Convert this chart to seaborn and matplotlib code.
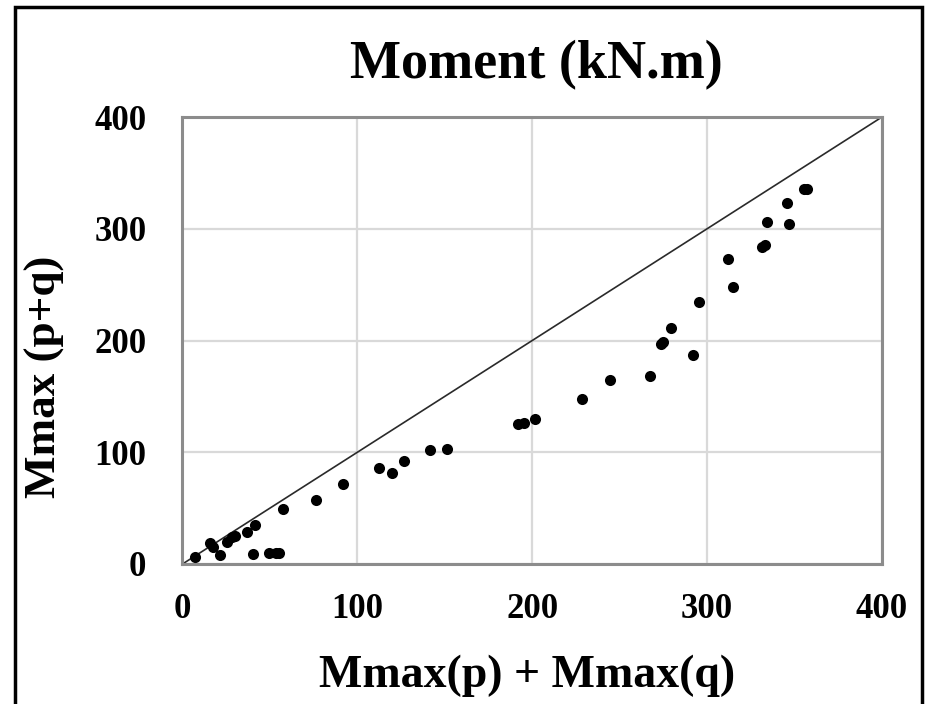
import matplotlib
matplotlib.use("Agg")
import matplotlib.pyplot as plt
import seaborn as sns
import pandas as pd
from matplotlib.patches import Rectangle

# Data
x_sum = [7, 15.7, 17.6, 21.4, 25.3, 28.1, 30, 37, 41.4, 40.5, 49.6, 53.4, 55.3, 57.6,
         76.3, 91.5, 112.5, 120, 126.6, 141.8, 151, 192, 195, 201.8, 228.3, 244.3,
         267.5, 273.5, 275, 279.3, 291.9, 295.3, 312.1, 315, 331.5, 333, 334, 345.6,
         346.6, 355.5, 357]
y_comb = [6, 18.5, 15.5, 8, 20, 24, 25, 29, 35, 9, 9.6, 9.6, 9.6, 49,
          57, 71.6, 85.7, 81.7, 92, 102, 103, 125, 126, 129.5, 147.7, 164.7,
          168.3, 197, 198.5, 211, 187, 234.8, 272.8, 248.3, 284, 285.5, 306, 322.6,
          304.4, 335.5, 336]
line_x = [0, 400]
line_y = [0, 400]
ticks = [0, 100, 200, 300, 400]

df = pd.DataFrame({"x": x_sum, "y": y_comb})

sns.set_theme(style="white")
plt.rcParams["font.family"] = ["Liberation Serif", "DejaVu Serif"]
plt.rcParams["text.color"] = "black"

fig = plt.figure(figsize=(9.29, 7.04), dpi=100)
W, H = 929, 704
ax = fig.add_axes([182.5 / W, (H - 564) / H, (882 - 182.5) / W, (564 - 117) / H])

ax.grid(True, color="#d9d9d9", linewidth=1.6, zorder=0)
ax.set_axisbelow(True)
sns.lineplot(x=line_x, y=line_y, ax=ax, color="#2a2a2a", linewidth=1.2, zorder=2)
sns.scatterplot(data=df, x="x", y="y", ax=ax, color="black", s=64,
                edgecolor="black", linewidth=0, zorder=3)

ax.set_xlim(0, 400)
ax.set_ylim(0, 400)
ax.set_xticks(ticks)
ax.set_yticks(ticks)
ax.set_xticklabels([str(t) for t in ticks], fontsize=25, fontweight="bold", color="black")
ax.set_yticklabels([str(t) for t in ticks], fontsize=25, fontweight="bold", color="black")
ax.tick_params(axis="both", length=0, colors="black")
ax.tick_params(axis="y", pad=26)
ax.tick_params(axis="x", pad=21)

for s in ax.spines.values():
    s.set_color("#8c8c8c")
    s.set_linewidth(2.2)

ax.set_xlabel("")
ax.set_ylabel("")
fig.text(527 / W, 1 - 687 / H, "Mmax(p) + Mmax(q)", fontsize=33, fontweight="bold",
         ha="center", va="baseline", color="black")
fig.text(45 / W, 1 - 377 / H, "Mmax (p+q)", fontsize=32.5, fontweight="bold",
         ha="center", va="center", rotation=90, color="black")
fig.text(536 / W, 1 - 78 / H, "Moment (kN.m)", fontsize=39, fontweight="bold",
         ha="center", va="baseline", color="black")

# outer frame (bottom edge beyond the image)
fig.patches.append(Rectangle((15 / W, -0.05), (922 - 15) / W, 1.05 - 7 / H,
                             transform=fig.transFigure, fill=False,
                             edgecolor="black", linewidth=2.5))

fig.savefig("out.png", dpi=100, facecolor="white")
